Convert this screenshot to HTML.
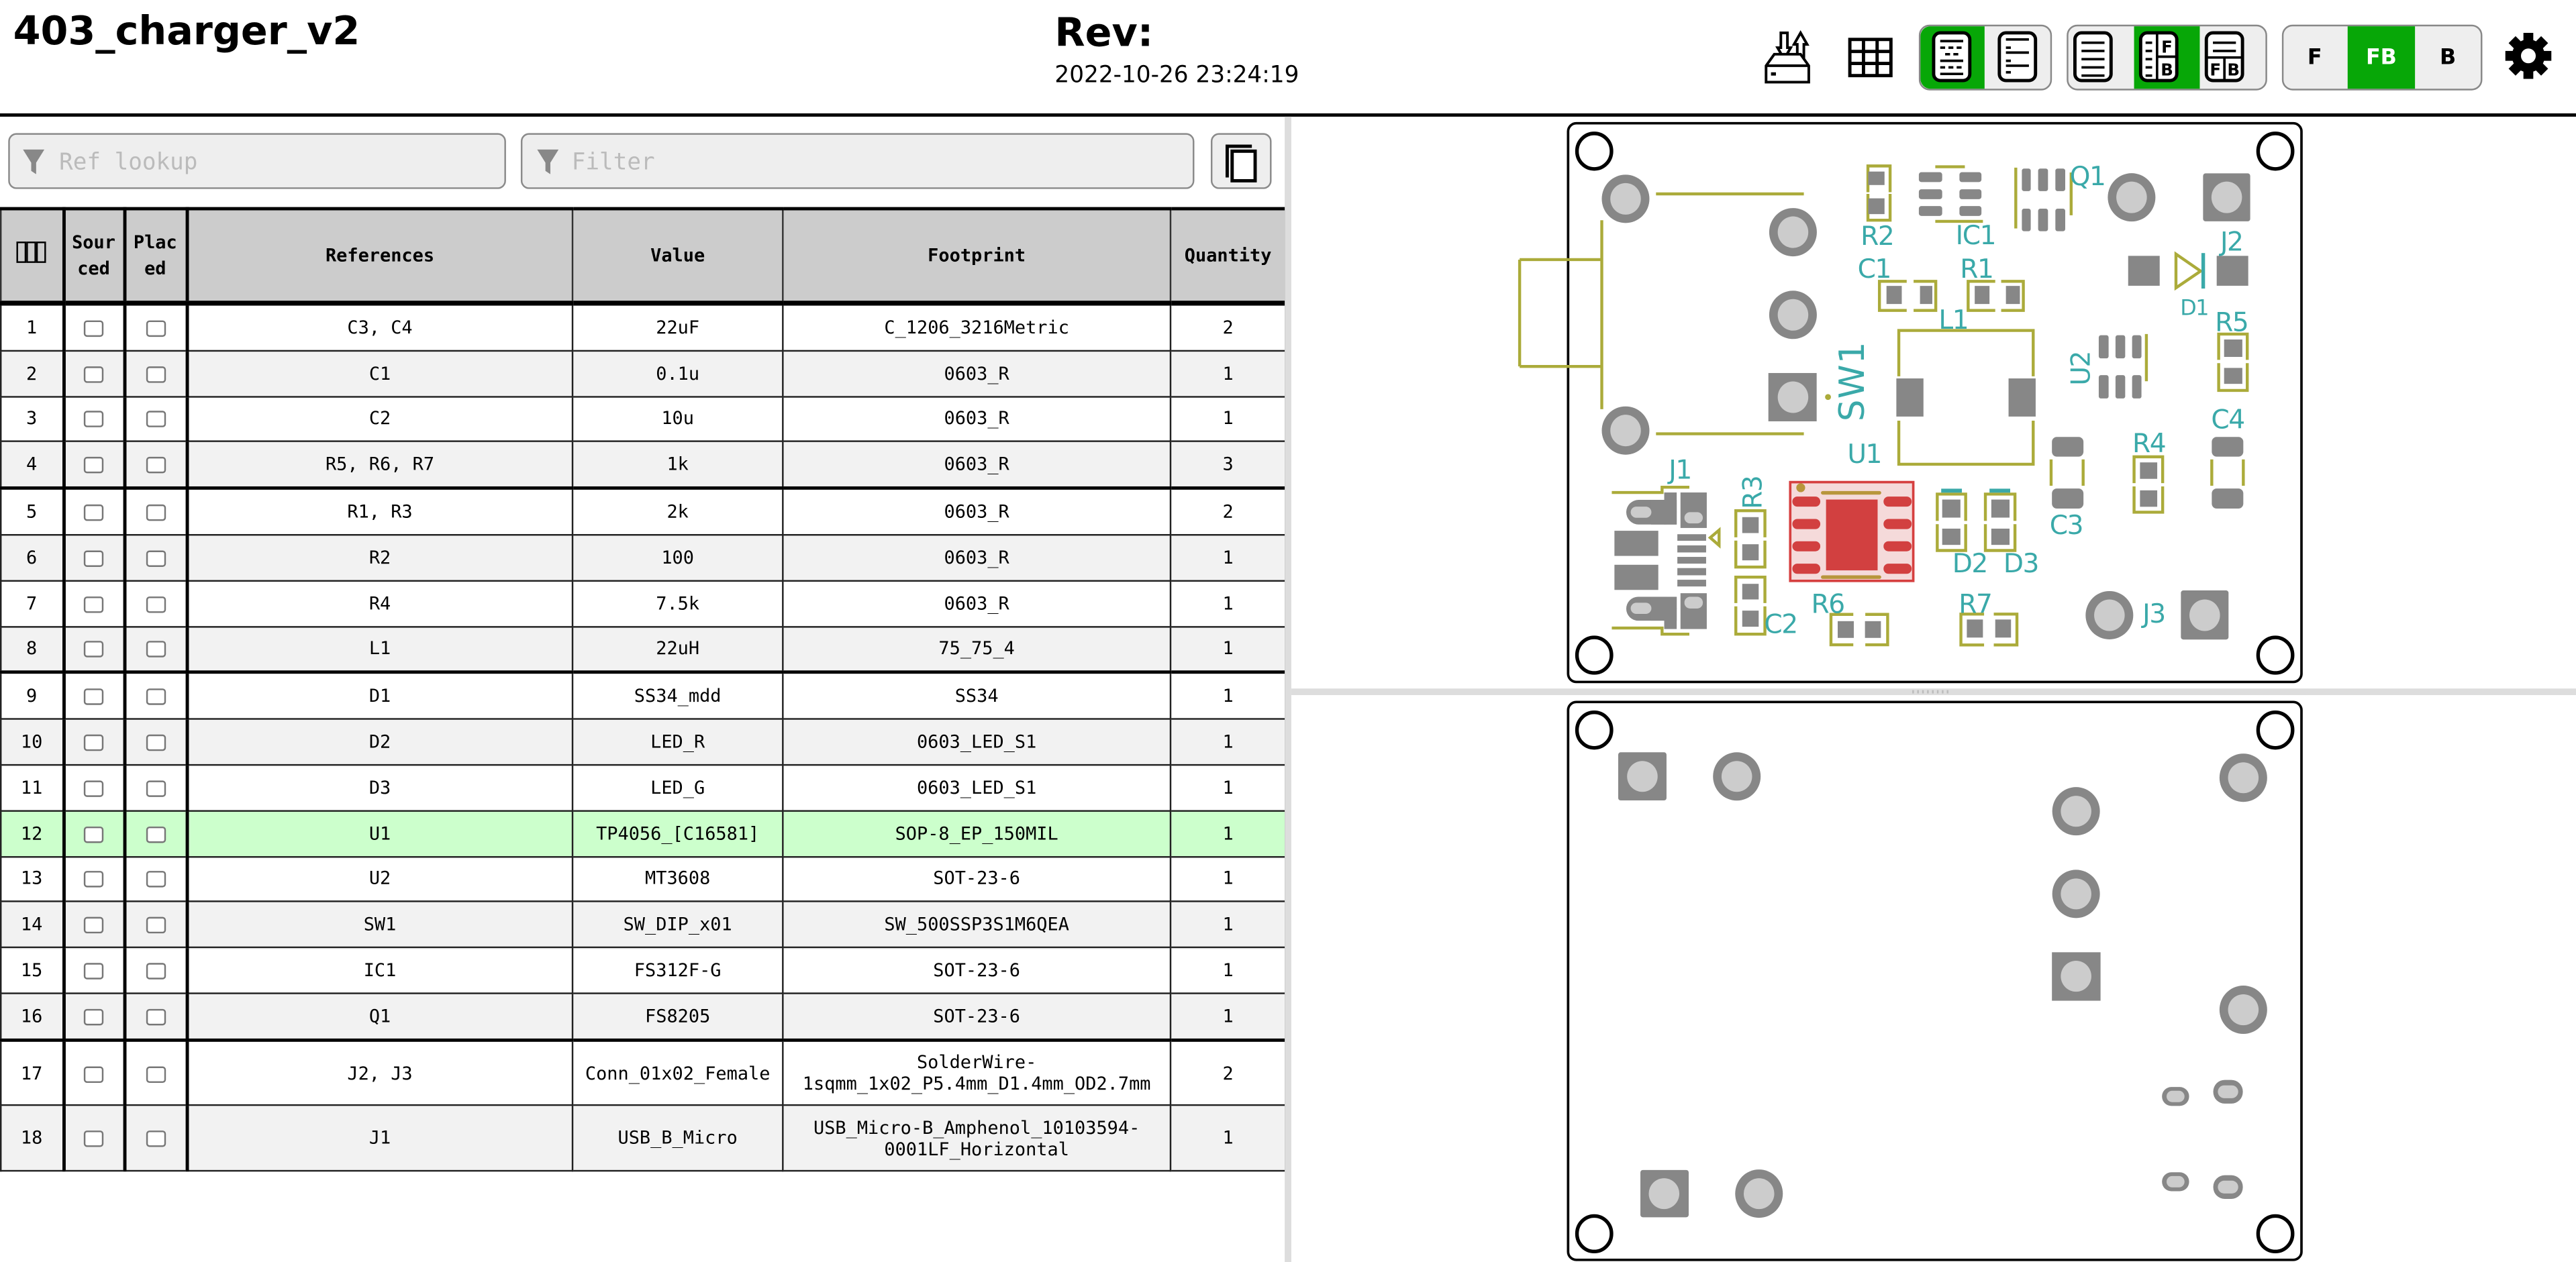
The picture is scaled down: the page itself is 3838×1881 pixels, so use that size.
<!DOCTYPE html>
<html><head><meta charset="utf-8">
<style>
html,body{margin:0;padding:0;background:#fff;overflow:hidden;width:3838px;height:1881px}
#wrap{position:absolute;left:0;top:0;width:1568px;height:768px;transform:scale(2.44770,2.44922);transform-origin:0 0;font-family:"DejaVu Sans","Liberation Sans",sans-serif}
.abs{position:absolute}
#title{left:8px;top:5px;font-size:24px;font-weight:bold;color:#000}
#rev{left:642px;top:6px;font-size:24px;font-weight:bold}
#date{left:642px;top:38px;font-size:14px}
#hline{left:0;top:69px;width:1568px;height:2px;background:#000}
.inp{top:81px;height:34px;background:#eee;border:1px solid #8a8a8a;border-radius:5px;box-sizing:border-box;font-family:"DejaVu Sans Mono",monospace;font-size:14px;color:#bbb;line-height:34px}
table{position:absolute;left:0;top:126px;width:782px;border-collapse:collapse;table-layout:fixed;font-family:"DejaVu Sans Mono","Liberation Mono",monospace;font-size:11px;text-align:center}
th{background:#ccc;height:55px;font-weight:bold;border:1px solid #333;border-top:2px solid #000;border-bottom:3px solid #000;padding:0;line-height:16px}
td{border:1px solid #222;padding:0;height:26.8px;line-height:13px}
tr.e td{background:#f2f2f2}
tr.g td{background:#ccffcc}
tr.tk td{border-bottom:2px solid #000}
tr.tall td{height:38.5px}
td.c1,th.c1,td.c2,th.c2,td.c3,th.c3{border-right:2px solid #000}
.cb{display:inline-block;width:10px;height:8px;border:1px solid #777;border-radius:2px;background:#fff;vertical-align:middle}
#vdiv{left:782px;top:71px;width:4px;height:697px;background:#ddd}
#hdiv{left:786px;top:419px;width:782px;height:4px;background:#ddd}
</style></head><body>
<div id="wrap">
<div id="title" class="abs">403_charger_v2</div>
<div id="rev" class="abs">Rev:</div>
<div id="date" class="abs">2022-10-26 23:24:19</div>
<div id="hline" class="abs"></div>

<div class="abs inp" style="left:5px;width:303px;padding-left:30px">Ref lookup</div>
<div class="abs inp" style="left:317px;width:410px;padding-left:30px">Filter</div>
<div class="abs inp" style="left:737px;width:37px"></div>

<table>
<colgroup><col style="width:38px"><col style="width:37px"><col style="width:38px"><col style="width:235px"><col style="width:128px"><col style="width:236px"><col style="width:70px"></colgroup>
<tr><th class="c1"><span style="display:inline-block;width:4px;height:11px;border:1px solid #000"></span><span style="display:inline-block;width:4px;height:11px;border:1px solid #000"></span><span style="display:inline-block;width:4px;height:11px;border:1px solid #000"></span></th><th class="c2">Sour<br>ced</th><th class="c3">Plac<br>ed</th><th>References</th><th>Value</th><th>Footprint</th><th>Quantity</th></tr>
<tr><td class="c1">1</td><td class="c2"><span class="cb"></span></td><td class="c3"><span class="cb"></span></td><td>C3, C4</td><td>22uF</td><td>C_1206_3216Metric</td><td>2</td></tr>
<tr class="e"><td class="c1">2</td><td class="c2"><span class="cb"></span></td><td class="c3"><span class="cb"></span></td><td>C1</td><td>0.1u</td><td>0603_R</td><td>1</td></tr>
<tr><td class="c1">3</td><td class="c2"><span class="cb"></span></td><td class="c3"><span class="cb"></span></td><td>C2</td><td>10u</td><td>0603_R</td><td>1</td></tr>
<tr class="e tk"><td class="c1">4</td><td class="c2"><span class="cb"></span></td><td class="c3"><span class="cb"></span></td><td>R5, R6, R7</td><td>1k</td><td>0603_R</td><td>3</td></tr>
<tr><td class="c1">5</td><td class="c2"><span class="cb"></span></td><td class="c3"><span class="cb"></span></td><td>R1, R3</td><td>2k</td><td>0603_R</td><td>2</td></tr>
<tr class="e"><td class="c1">6</td><td class="c2"><span class="cb"></span></td><td class="c3"><span class="cb"></span></td><td>R2</td><td>100</td><td>0603_R</td><td>1</td></tr>
<tr><td class="c1">7</td><td class="c2"><span class="cb"></span></td><td class="c3"><span class="cb"></span></td><td>R4</td><td>7.5k</td><td>0603_R</td><td>1</td></tr>
<tr class="e tk"><td class="c1">8</td><td class="c2"><span class="cb"></span></td><td class="c3"><span class="cb"></span></td><td>L1</td><td>22uH</td><td>75_75_4</td><td>1</td></tr>
<tr><td class="c1">9</td><td class="c2"><span class="cb"></span></td><td class="c3"><span class="cb"></span></td><td>D1</td><td>SS34_mdd</td><td>SS34</td><td>1</td></tr>
<tr class="e"><td class="c1">10</td><td class="c2"><span class="cb"></span></td><td class="c3"><span class="cb"></span></td><td>D2</td><td>LED_R</td><td>0603_LED_S1</td><td>1</td></tr>
<tr><td class="c1">11</td><td class="c2"><span class="cb"></span></td><td class="c3"><span class="cb"></span></td><td>D3</td><td>LED_G</td><td>0603_LED_S1</td><td>1</td></tr>
<tr class="g"><td class="c1">12</td><td class="c2"><span class="cb"></span></td><td class="c3"><span class="cb"></span></td><td>U1</td><td>TP4056_[C16581]</td><td>SOP-8_EP_150MIL</td><td>1</td></tr>
<tr><td class="c1">13</td><td class="c2"><span class="cb"></span></td><td class="c3"><span class="cb"></span></td><td>U2</td><td>MT3608</td><td>SOT-23-6</td><td>1</td></tr>
<tr class="e"><td class="c1">14</td><td class="c2"><span class="cb"></span></td><td class="c3"><span class="cb"></span></td><td>SW1</td><td>SW_DIP_x01</td><td>SW_500SSP3S1M6QEA</td><td>1</td></tr>
<tr><td class="c1">15</td><td class="c2"><span class="cb"></span></td><td class="c3"><span class="cb"></span></td><td>IC1</td><td>FS312F-G</td><td>SOT-23-6</td><td>1</td></tr>
<tr class="e tk"><td class="c1">16</td><td class="c2"><span class="cb"></span></td><td class="c3"><span class="cb"></span></td><td>Q1</td><td>FS8205</td><td>SOT-23-6</td><td>1</td></tr>
<tr class="tall"><td class="c1">17</td><td class="c2"><span class="cb"></span></td><td class="c3"><span class="cb"></span></td><td>J2, J3</td><td>Conn_01x02_Female</td><td>SolderWire-<br>1sqmm_1x02_P5.4mm_D1.4mm_OD2.7mm</td><td>2</td></tr>
<tr class="e tall"><td class="c1">18</td><td class="c2"><span class="cb"></span></td><td class="c3"><span class="cb"></span></td><td>J1</td><td>USB_B_Micro</td><td>USB_Micro-B_Amphenol_10103594-<br>0001LF_Horizontal</td><td>1</td></tr>
</table>

<div id="vdiv" class="abs"></div>
<div id="hdiv" class="abs"></div>

<svg class="abs" style="left:0;top:0" width="1568" height="768" viewBox="0 0 1568 768">
<path d="M14 91H27L22 99V106L19 104V99Z" fill="#888"/>
<path d="M327 91H340L335 99V106L332 104V99Z" fill="#888"/>
<rect x="746" y="88" width="2" height="20" fill="#000"/>
<rect x="746" y="88" width="16" height="2" fill="#000"/>
<rect x="750" y="92" width="14" height="18" fill="#fff" stroke="#000" stroke-width="2"/>
<g fill="#bbb"><rect x="1164" y="420" width="1" height="2"/><rect x="1167" y="420" width="1" height="2"/><rect x="1170" y="420" width="1" height="2"/><rect x="1173" y="420" width="1" height="2"/><rect x="1176" y="420" width="1" height="2"/><rect x="1179" y="420" width="1" height="2"/><rect x="1182" y="420" width="1" height="2"/><rect x="1185" y="420" width="1" height="2"/></g>

<!-- toolbar -->
<g stroke="#000" stroke-width="1.6" fill="#fff">
<path d="M1084 20V29H1082L1086 36L1090 29H1088V20Z"/>
<path d="M1094 36V27H1092L1096 20L1100 27H1098V36Z"/>
<path d="M1080 33H1096L1101 40V50H1075V40Z"/>
<line x1="1075" y1="40" x2="1101" y2="40"/>
</g>
<rect x="1078" y="44" width="3" height="2" fill="#000"/>
<g stroke="#000" stroke-width="2" fill="none">
<rect x="1126" y="24" width="25" height="22"/>
<path d="M1134.3 24V46M1142.6 24V46M1126 31.3H1151M1126 38.6H1151"/>
</g>
<!-- group backgrounds -->
<rect x="1168.5" y="15.5" width="80" height="39" rx="6" fill="#eee" stroke="#888"/>
<path d="M1174.5 16H1208V54H1174.5A6 6 0 0 1 1169 48V22A6 6 0 0 1 1174.5 16Z" fill="#07a707"/>
<rect x="1258.5" y="15.5" width="121" height="39" rx="6" fill="#eee" stroke="#888"/>
<rect x="1299" y="16" width="40" height="38" fill="#07a707"/>
<rect x="1389.5" y="15.5" width="121" height="39" rx="6" fill="#eee" stroke="#888"/>
<rect x="1429" y="16" width="41" height="38" fill="#07a707"/>
<g stroke="#000" fill="#fff" stroke-width="2">
<rect x="1177" y="20" width="22" height="29" rx="4"/>
<rect x="1217" y="20" width="22" height="29" rx="4"/>
<rect x="1263" y="20" width="22" height="29" rx="4"/>
<rect x="1303" y="20" width="22" height="29" rx="4"/>
<rect x="1343" y="20" width="22" height="29" rx="4"/>
</g>
<g stroke="#000" stroke-width="1.5">
<path d="M1181 25H1195M1181 29H1184M1186 29H1189M1191 29H1194M1184 33H1187M1189 33H1192M1181 37H1195M1181 41H1184M1186 41H1189M1191 41H1194M1181 45H1195"/>
<path d="M1221 24H1235M1221 29H1224M1221 32H1235M1221 37H1224M1221 40H1235M1221 44H1224"/>
<path d="M1267 26H1281M1267 31H1281M1267 36H1281M1267 41H1281M1267 46H1281"/>
<path d="M1306 26H1310M1306 31H1310M1306 36H1310M1306 41H1310M1306 46H1310M1313 20V49M1313 34.5H1325"/>
<path d="M1347 26H1361M1347 31H1361M1343 35H1365M1354 35V49"/>
</g>
<text x="1319" y="32" font-size="10" font-weight="bold" text-anchor="middle" font-family="DejaVu Sans">F</text>
<text x="1319" y="46" font-size="10" font-weight="bold" text-anchor="middle" font-family="DejaVu Sans">B</text>
<text x="1348.5" y="46" font-size="10" font-weight="bold" text-anchor="middle" font-family="DejaVu Sans">F</text>
<text x="1359.5" y="46" font-size="10" font-weight="bold" text-anchor="middle" font-family="DejaVu Sans">B</text>
<text x="1409" y="39" font-size="13" font-weight="bold" text-anchor="middle" font-family="DejaVu Sans">F</text>
<text x="1449.5" y="39" font-size="13" font-weight="bold" text-anchor="middle" fill="#fff" font-family="DejaVu Sans">FB</text>
<text x="1490" y="39" font-size="13" font-weight="bold" text-anchor="middle" font-family="DejaVu Sans">B</text>
<g transform="translate(1539,34)" fill="#000">
<circle r="10"/>
<rect x="-3" y="-14" width="6" height="28"/>
<rect x="-3" y="-14" width="6" height="28" transform="rotate(45)"/>
<rect x="-3" y="-14" width="6" height="28" transform="rotate(90)"/>
<rect x="-3" y="-14" width="6" height="28" transform="rotate(135)"/>
<circle r="4.5" fill="#fff"/>
</g>

<!-- ========== TOP BOARD ========== -->
<rect x="954.5" y="75" width="446.4" height="340" rx="5" fill="#fff" stroke="#000" stroke-width="1.5"/>
<g fill="#fff" stroke="#000" stroke-width="2.2">
<ellipse cx="970.4" cy="92" rx="10.5" ry="10.8"/><ellipse cx="1385" cy="92" rx="10.5" ry="10.8"/>
<ellipse cx="970.4" cy="398.7" rx="10.5" ry="10.8"/><ellipse cx="1385" cy="398.7" rx="10.5" ry="10.8"/>
</g>
<g stroke="#abab3a" stroke-width="1.8" fill="none">
<path d="M1008 118H1098M1008 264H1098M975 134V249M925 158H975M925 223H975M925 158V223"/>
<path d="M1137 117V101H1150.5V117M1137 118V134H1150.5V118"/>
<path d="M1178 101.5H1196M1178 134.7H1207"/>
<path d="M1227 102V139M1260.7 105V131"/>
<path d="M1324.5 154.6V175.2L1339.5 165Z"/>
<path d="M1160.6 171.2H1144V188.9H1160.6M1164.8 171.2H1178.3V188.9H1164.8"/>
<path d="M1214.5 171.2H1198V188.9H1214.5M1218.1 171.2H1231.6V188.9H1218.1"/>
<path d="M1155.8 229V201.1H1237.6V229M1155.8 256V282.5H1237.6V256"/>
<path d="M1306.5 203.3V232"/>
<path d="M1350.5 219V203.3H1367.9V219M1350.5 221V237.6H1367.9V221"/>
<path d="M1346.3 279.6V295.6M1365.5 279.6V295.6M1248.5 279.6V295.6M1268 279.6V295.6"/>
<path d="M1299 294V278H1316.4V294M1299 296V311.7H1316.4V296"/>
<path d="M981.1 299.7H1011.7V296.5H1028.3M981.1 382.2H1011.7V385.9H1028.3"/>
<path d="M1046.4 322.6V331.9L1041 327.2Z"/>
<path d="M1056.6 327V310.8H1074.3V327M1056.6 329V345.1H1074.3V329"/>
<path d="M1056.6 367V351.2H1074.3V367M1056.6 369V385.9H1074.3V369"/>
<path d="M1128.1 373.9H1114.5V392.4H1128.1M1135.4 373.9H1149V392.4H1135.4"/>
<path d="M1207.7 373.7H1193.6V392.5H1207.7M1213.6 373.7H1227.7V392.5H1213.6"/>
<path d="M1179.2 317V300.7H1196.5V317M1179.2 319V335H1196.5V319"/>
<path d="M1208.5 317V300.7H1226.5V317M1208.5 319V335H1226.5V319"/>
</g>
<circle cx="1112.7" cy="241.6" r="1.8" fill="#abab3a"/>
<g fill="#3aa9a9">
<rect x="1340" y="154" width="2.2" height="21.6"/>
<rect x="1181.6" y="297.4" width="12.6" height="2.4"/>
<rect x="1211" y="297.4" width="12.6" height="2.4"/>
</g>
<g fill="#878787">
<ellipse cx="989.5" cy="121" rx="14.5" ry="14.7"/><ellipse cx="1091.4" cy="141.3" rx="14.5" ry="14.7"/>
<ellipse cx="1091.4" cy="191.6" rx="14.5" ry="14.7"/><rect x="1076.4" y="227" width="29.4" height="29.4"/>
<ellipse cx="989.5" cy="262" rx="14.5" ry="14.7"/>
<ellipse cx="1297.5" cy="120.1" rx="14.5" ry="14.7"/><rect x="1341" y="105.5" width="28.7" height="29.2" rx="1.5"/>
<ellipse cx="1284" cy="374.4" rx="14.5" ry="14.7"/><rect x="1327.5" y="359.3" width="29" height="29.9" rx="1.5"/>
<rect x="1137.2" y="104.4" width="9.9" height="8.2"/><rect x="1137.2" y="120.7" width="9.9" height="9.6"/>
<rect x="1168" y="104.8" width="14.2" height="6" rx="1.5"/><rect x="1192.7" y="104.8" width="13.4" height="6" rx="1.5"/>
<rect x="1168" y="115.2" width="14.2" height="6" rx="1.5"/><rect x="1192.7" y="115.2" width="13.4" height="6" rx="1.5"/>
<rect x="1168" y="125.4" width="14.2" height="6" rx="1.5"/><rect x="1192.7" y="125.4" width="13.4" height="6" rx="1.5"/>
<rect x="1230.7" y="102.6" width="5.4" height="13.7" rx="1.3"/><rect x="1240.6" y="102.6" width="6" height="13.7" rx="1.3"/><rect x="1251.1" y="102.6" width="6" height="13.7" rx="1.3"/>
<rect x="1230.7" y="127" width="5.4" height="13.7" rx="1.3"/><rect x="1240.6" y="127" width="6" height="13.7" rx="1.3"/><rect x="1251.1" y="127" width="6" height="13.7" rx="1.3"/>
<rect x="1295.4" y="155.7" width="19.2" height="18.2"/><rect x="1349.3" y="155.7" width="19.2" height="18.2"/>
<rect x="1148.3" y="174" width="9.3" height="11"/><rect x="1168.7" y="174" width="7.5" height="11"/>
<rect x="1202" y="174" width="9" height="11"/><rect x="1221" y="174" width="8.5" height="11"/>
<rect x="1154.3" y="230.3" width="16.5" height="23.2"/><rect x="1222.6" y="230.3" width="16.5" height="23.2"/>
<rect x="1277.5" y="204" width="6" height="14.1" rx="1.3"/><rect x="1287.7" y="204" width="5.9" height="14.1" rx="1.3"/><rect x="1297.8" y="204" width="5.7" height="14.1" rx="1.3"/>
<rect x="1277.5" y="228.3" width="6" height="14.2" rx="1.3"/><rect x="1287.7" y="228.3" width="5.9" height="14.2" rx="1.3"/><rect x="1297.8" y="228.3" width="5.7" height="14.2" rx="1.3"/>
<rect x="1353.8" y="206.6" width="11.1" height="10.6"/><rect x="1353.8" y="223.9" width="11.1" height="9.7"/>
<rect x="1346.3" y="265.9" width="19.2" height="12" rx="3"/><rect x="1346.3" y="297.3" width="19.2" height="12.2" rx="3"/>
<rect x="1249" y="265.9" width="19.2" height="12" rx="3"/><rect x="1249" y="297.3" width="19.2" height="12.2" rx="3"/>
<rect x="1302.6" y="281.4" width="10.5" height="10"/><rect x="1302.6" y="298.4" width="10.5" height="10"/>
<rect x="1182.2" y="304" width="11.1" height="11"/><rect x="1182.2" y="321.7" width="11.1" height="9.9"/>
<rect x="1212.1" y="304" width="11.1" height="11"/><rect x="1212.1" y="321.7" width="11.1" height="9.9"/>
<rect x="1060.5" y="314.7" width="10" height="9.7"/><rect x="1060.5" y="331.2" width="10" height="9.8"/>
<rect x="1060.5" y="355.3" width="10" height="9.5"/><rect x="1060.5" y="371.6" width="10" height="9.8"/>
<rect x="1118.6" y="378" width="9.8" height="10.2"/><rect x="1135.2" y="378" width="9.7" height="10.2"/>
<rect x="1197.2" y="377" width="9.8" height="11"/><rect x="1214.5" y="377" width="9.6" height="11"/>
<rect x="989.9" y="304.2" width="30.7" height="15" rx="7.5"/><rect x="1005" y="304.2" width="15.6" height="15"/>
<rect x="1013" y="299.7" width="7.6" height="19.5"/>
<rect x="1022.9" y="299.7" width="16" height="21.6"/>
<rect x="982.7" y="323" width="26.7" height="15.3"/><rect x="982.7" y="343.7" width="26.7" height="15.3"/>
<rect x="1021" y="325.1" width="17.5" height="4"/><rect x="1021" y="331.9" width="17.5" height="4.3"/><rect x="1021" y="338.9" width="17.5" height="4.1"/><rect x="1021" y="345.7" width="17.5" height="4.4"/><rect x="1021" y="352.8" width="17.5" height="4.1"/>
<rect x="989.9" y="363.2" width="30.7" height="14.5" rx="7.2"/><rect x="1005" y="363.2" width="15.6" height="14.5"/>
<rect x="1013" y="363.2" width="7.6" height="19.6"/>
<rect x="1022.9" y="361" width="16" height="21.8"/>
</g>
<g fill="#cccccc">
<ellipse cx="989.5" cy="121" rx="9.3" ry="9.6"/><ellipse cx="1091.4" cy="141.3" rx="9.3" ry="9.6"/>
<ellipse cx="1091.4" cy="191.6" rx="9.3" ry="9.6"/><ellipse cx="1091.4" cy="241.7" rx="9.3" ry="9.6"/>
<ellipse cx="989.5" cy="262" rx="9.3" ry="9.6"/>
<ellipse cx="1297.5" cy="120.1" rx="9.3" ry="9.6"/><ellipse cx="1355.4" cy="120.1" rx="9.3" ry="9.6"/>
<ellipse cx="1284" cy="374.4" rx="9.3" ry="9.6"/><ellipse cx="1342" cy="374.4" rx="9.3" ry="9.6"/>
<rect x="992.6" y="308.3" width="12.6" height="6.8" rx="3.4"/><rect x="1025.3" y="311.7" width="11.2" height="6.8" rx="3.4"/>
<rect x="992.6" y="366.8" width="12.6" height="6.8" rx="3.4"/><rect x="1025.3" y="363.2" width="11.2" height="7.1" rx="3.4"/>
</g>
<rect x="1089.7" y="293.4" width="74.9" height="60.1" fill="#f5dada" stroke="#d64040" stroke-width="1.5"/>
<g fill="#d24040">
<rect x="1111.5" y="304" width="31.4" height="43.1"/>
<rect x="1091" y="302.2" width="17" height="6.1" rx="3"/><rect x="1091" y="315.8" width="17" height="6.2" rx="3"/><rect x="1091" y="329.4" width="17" height="6.1" rx="3"/><rect x="1091" y="343" width="17" height="6.2" rx="3"/>
<rect x="1146.5" y="302.2" width="17.1" height="6.1" rx="3"/><rect x="1146.5" y="315.8" width="17.1" height="6.2" rx="3"/><rect x="1146.5" y="329.4" width="17.1" height="6.1" rx="3"/><rect x="1146.5" y="343" width="17.1" height="6.2" rx="3"/>
</g>
<circle cx="1096.1" cy="296.8" r="2.7" fill="#b8943a"/>
<path d="M1109.5 299.9H1144M1109.5 351.2H1144" stroke="#b8963c" stroke-width="2.2" stroke-linecap="round"/>
<g fill="#3aa9a9" font-family="DejaVu Sans" font-size="16" text-anchor="middle" letter-spacing="-0.6">
<text x="1142.6" y="149">R2</text>
<text x="1202.5" y="148.6">IC1</text>
<text x="1270.6" y="112.6">Q1</text>
<text x="1358.3" y="152.4">J2</text>
<text x="1335.6" y="191.6" font-size="13">D1</text>
<text x="1140.8" y="169">C1</text>
<text x="1203.1" y="169">R1</text>
<text x="1189" y="200">L1</text>
<text x="1358.3" y="201.5">R5</text>
<text x="1356" y="260.8">C4</text>
<text x="1308" y="275.2">R4</text>
<text x="1134.8" y="281.8">U1</text>
<text x="1022.6" y="291.3">J1</text>
<text x="1257.7" y="325">C3</text>
<text x="1199" y="348.2">D2</text>
<text x="1230.1" y="348.2">D3</text>
<text x="1083.9" y="385.2">C2</text>
<text x="1112.5" y="373">R6</text>
<text x="1202.3" y="373">R7</text>
<text x="1311" y="379">J3</text>
<text transform="translate(1072.3,299.8) rotate(-90)">R3</text>
<text transform="translate(1272,224.3) rotate(-90)">U2</text>
<text transform="translate(1134.5,232) rotate(-90)" font-size="21" letter-spacing="0.5">SW1</text>
</g>

<!-- ========== BOTTOM BOARD ========== -->
<rect x="954.5" y="427.2" width="446.4" height="339.5" rx="5" fill="#fff" stroke="#000" stroke-width="1.5"/>
<g fill="#fff" stroke="#000" stroke-width="2.2">
<ellipse cx="970.4" cy="444.3" rx="10.5" ry="10.8"/><ellipse cx="1385" cy="444.3" rx="10.5" ry="10.8"/>
<ellipse cx="970.4" cy="750.8" rx="10.5" ry="10.8"/><ellipse cx="1385" cy="750.8" rx="10.5" ry="10.8"/>
</g>
<g fill="#878787">
<rect x="985" y="457.8" width="29.4" height="29.3" rx="1.5"/>
<ellipse cx="1057.2" cy="472.5" rx="14.5" ry="14.7"/>
<ellipse cx="1365.5" cy="473.3" rx="14.5" ry="14.7"/>
<ellipse cx="1263.7" cy="493.7" rx="14.5" ry="14.7"/>
<ellipse cx="1263.7" cy="544" rx="14.5" ry="14.7"/>
<rect x="1249" y="579.5" width="29.6" height="29.5"/>
<ellipse cx="1365.5" cy="614.5" rx="14.5" ry="14.7"/>
<rect x="998.5" y="712" width="29.4" height="28.8" rx="1.5"/>
<ellipse cx="1070.7" cy="726.4" rx="14.5" ry="14.7"/>
<rect x="1316" y="661.5" width="16.5" height="11.5" rx="5.7"/>
<rect x="1347.2" y="657.2" width="18" height="14.4" rx="7"/>
<rect x="1316" y="713.4" width="16.5" height="11.5" rx="5.7"/>
<rect x="1347.2" y="715.2" width="18" height="14.4" rx="7"/>
</g>
<g fill="#cccccc">
<ellipse cx="999.7" cy="472.5" rx="9.3" ry="9.4"/>
<ellipse cx="1057.2" cy="472.5" rx="9.3" ry="9.4"/>
<ellipse cx="1365.5" cy="473.3" rx="9.3" ry="9.4"/>
<ellipse cx="1263.7" cy="493.7" rx="9.3" ry="9.4"/>
<ellipse cx="1263.7" cy="544" rx="9.3" ry="9.4"/>
<ellipse cx="1263.7" cy="594.1" rx="9.3" ry="9.4"/>
<ellipse cx="1365.5" cy="614.5" rx="9.3" ry="9.4"/>
<ellipse cx="1012.9" cy="726.4" rx="9.3" ry="9.4"/>
<ellipse cx="1070.7" cy="726.4" rx="9.3" ry="9.4"/>
<rect x="1318.8" y="663.8" width="10.9" height="6.9" rx="3.4"/>
<rect x="1350" y="660.5" width="12.4" height="7.8" rx="3.9"/>
<rect x="1318.8" y="715.7" width="10.9" height="6.9" rx="3.4"/>
<rect x="1350" y="718.5" width="12.4" height="7.8" rx="3.9"/>
</g>
</svg>
</div>
</body></html>
